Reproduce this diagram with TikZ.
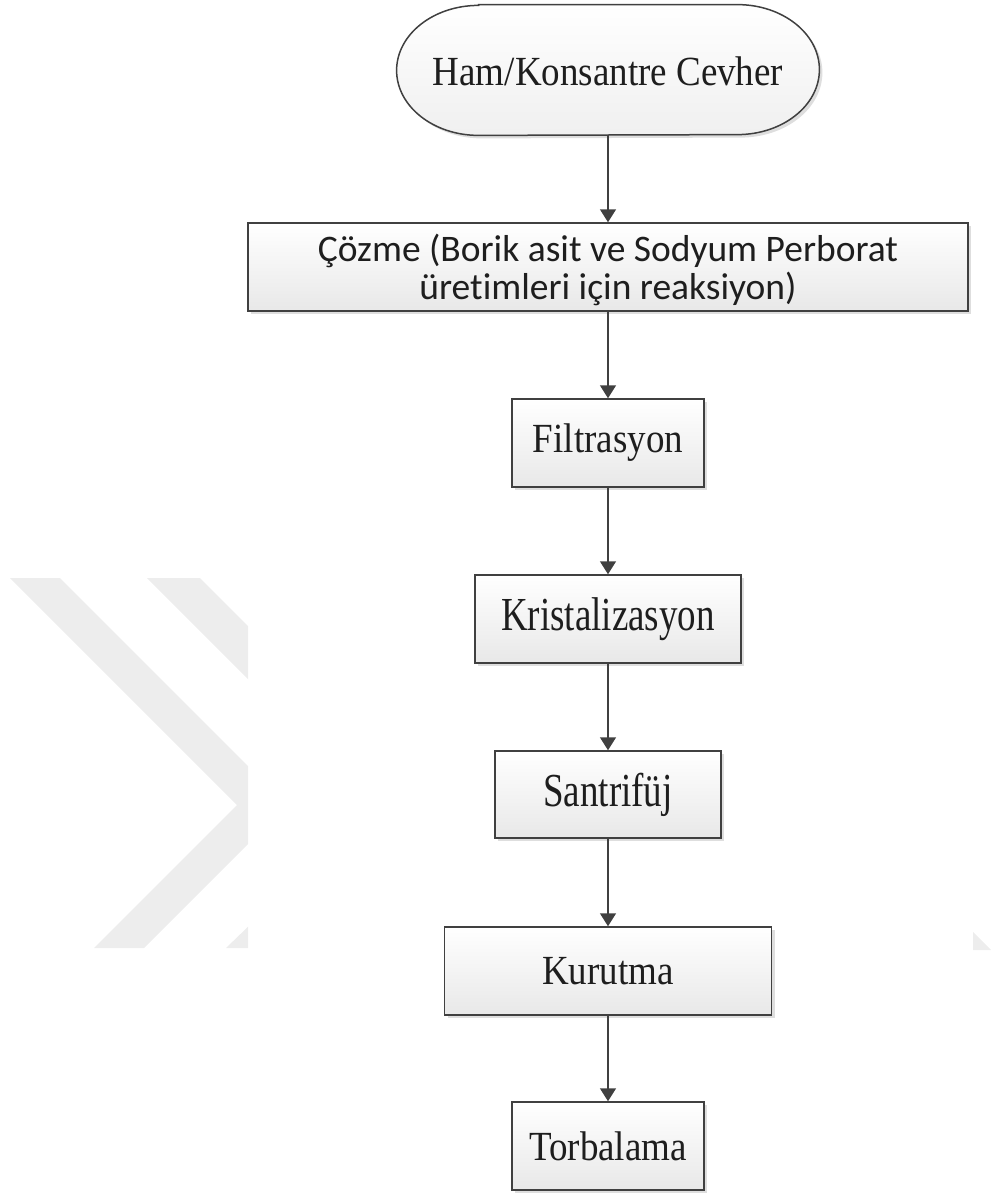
\documentclass[tikz,border=0pt]{standalone}
\usepackage{fontspec}
\setmainfont{Liberation Serif}
\newfontfamily\carlito[Ligatures={NoCommon}]{Carlito}
\usetikzlibrary{arrows.meta,shadows}
\definecolor{wm}{RGB}{237,237,237}
\definecolor{edge}{RGB}{64,64,64}
\definecolor{txt}{RGB}{30,30,30}
\newcommand{\tall}[1]{\scalebox{1}[1.12]{#1}}
\newcommand{\taller}[1]{\scalebox{1}[1.28]{#1}}
\tikzset{
  procbox/.style={draw=edge, line width=0.75pt, inner sep=0pt, top color=white, bottom color=black!9,
    text=txt, font=\fontsize{18.5}{22}\selectfont,
    drop shadow={shadow xshift=1.5pt, shadow yshift=-1.5pt, fill=black, opacity=0.13}},
  arr/.style={draw=edge, line width=0.75pt, -{Triangle[length=6.5pt,width=8pt]}},
}
\begin{document}
\begin{tikzpicture}[x=0.5pt,y=-0.5pt]
\useasboundingbox (0,0) rectangle (992,1194);
% watermark
\begin{scope}
\clip (0,0) rectangle (248,1194);
\fill[wm] (10,578) -- (60,578) -- (287,805) -- (144,948) -- (94,948) -- (237,805) -- cycle;
\fill[wm] (147,578) -- (200,578) -- (427,805) -- (281,948) -- (226,948) -- (374,805) -- cycle;
\end{scope}
\fill[wm] (973,932) -- (973,950) -- (991,950) -- cycle;
% terminal
\node[minimum width=211pt, minimum height=65pt, inner sep=0pt] (ham) at (608,70) {};
\path[draw=edge, line width=0.75pt, top color=white, bottom color=black!6,
  drop shadow={shadow xshift=1.5pt, shadow yshift=-1.5pt, fill=black, opacity=0.13}]
  ([xshift=41pt]ham.north west) -- ([xshift=-41pt]ham.north east)
  arc[start angle=90, end angle=-90, x radius=41pt, y radius=32.5pt]
  -- ([xshift=41pt]ham.south west)
  arc[start angle=270, end angle=90, x radius=41pt, y radius=32.5pt] -- cycle;
\node[text=txt, font=\fontsize{18.5}{22}\selectfont] (hamtext) at (608,71) {\tall{Ham/Konsantre Cevher}};
% boxes
\node[procbox, minimum width=360pt, minimum height=44pt] (coz) at (608,267) {};
\node[text=txt, align=center, inner sep=0pt, font=\carlito\fontsize{18.75}{19}\selectfont] (coztext) at (608,270)
  {Çözme (Borik asit ve Sodyum Perborat\\üretimleri için reaksiyon)};
\node[procbox, minimum width=96pt, minimum height=44pt] (filt) at (608,443) {\tall{Filtrasyon}};
\node[procbox, minimum width=133pt, minimum height=44pt] (krist) at (608,619) {\taller{Kristalizasyon}};
\node[procbox, minimum width=113pt, minimum height=43.5pt] (sant) at (608,794.5) {\taller{Santrifüj}};
\node[procbox, minimum width=163.5pt, minimum height=44pt] (kuru) at (608,971) {\tall{Kurutma}};
\node[procbox, minimum width=96pt, minimum height=44pt] (torb) at (608,1146) {\tall{Torbalama}};
% connectors
\draw[arr] (ham.south) -- (coz.north);
\draw[arr] (coz.south) -- (filt.north);
\draw[arr] (filt.south) -- (krist.north);
\draw[arr] (krist.south) -- (sant.north);
\draw[arr] (sant.south) -- (kuru.north);
\draw[arr] (kuru.south) -- (torb.north);
\end{tikzpicture}
\end{document}
